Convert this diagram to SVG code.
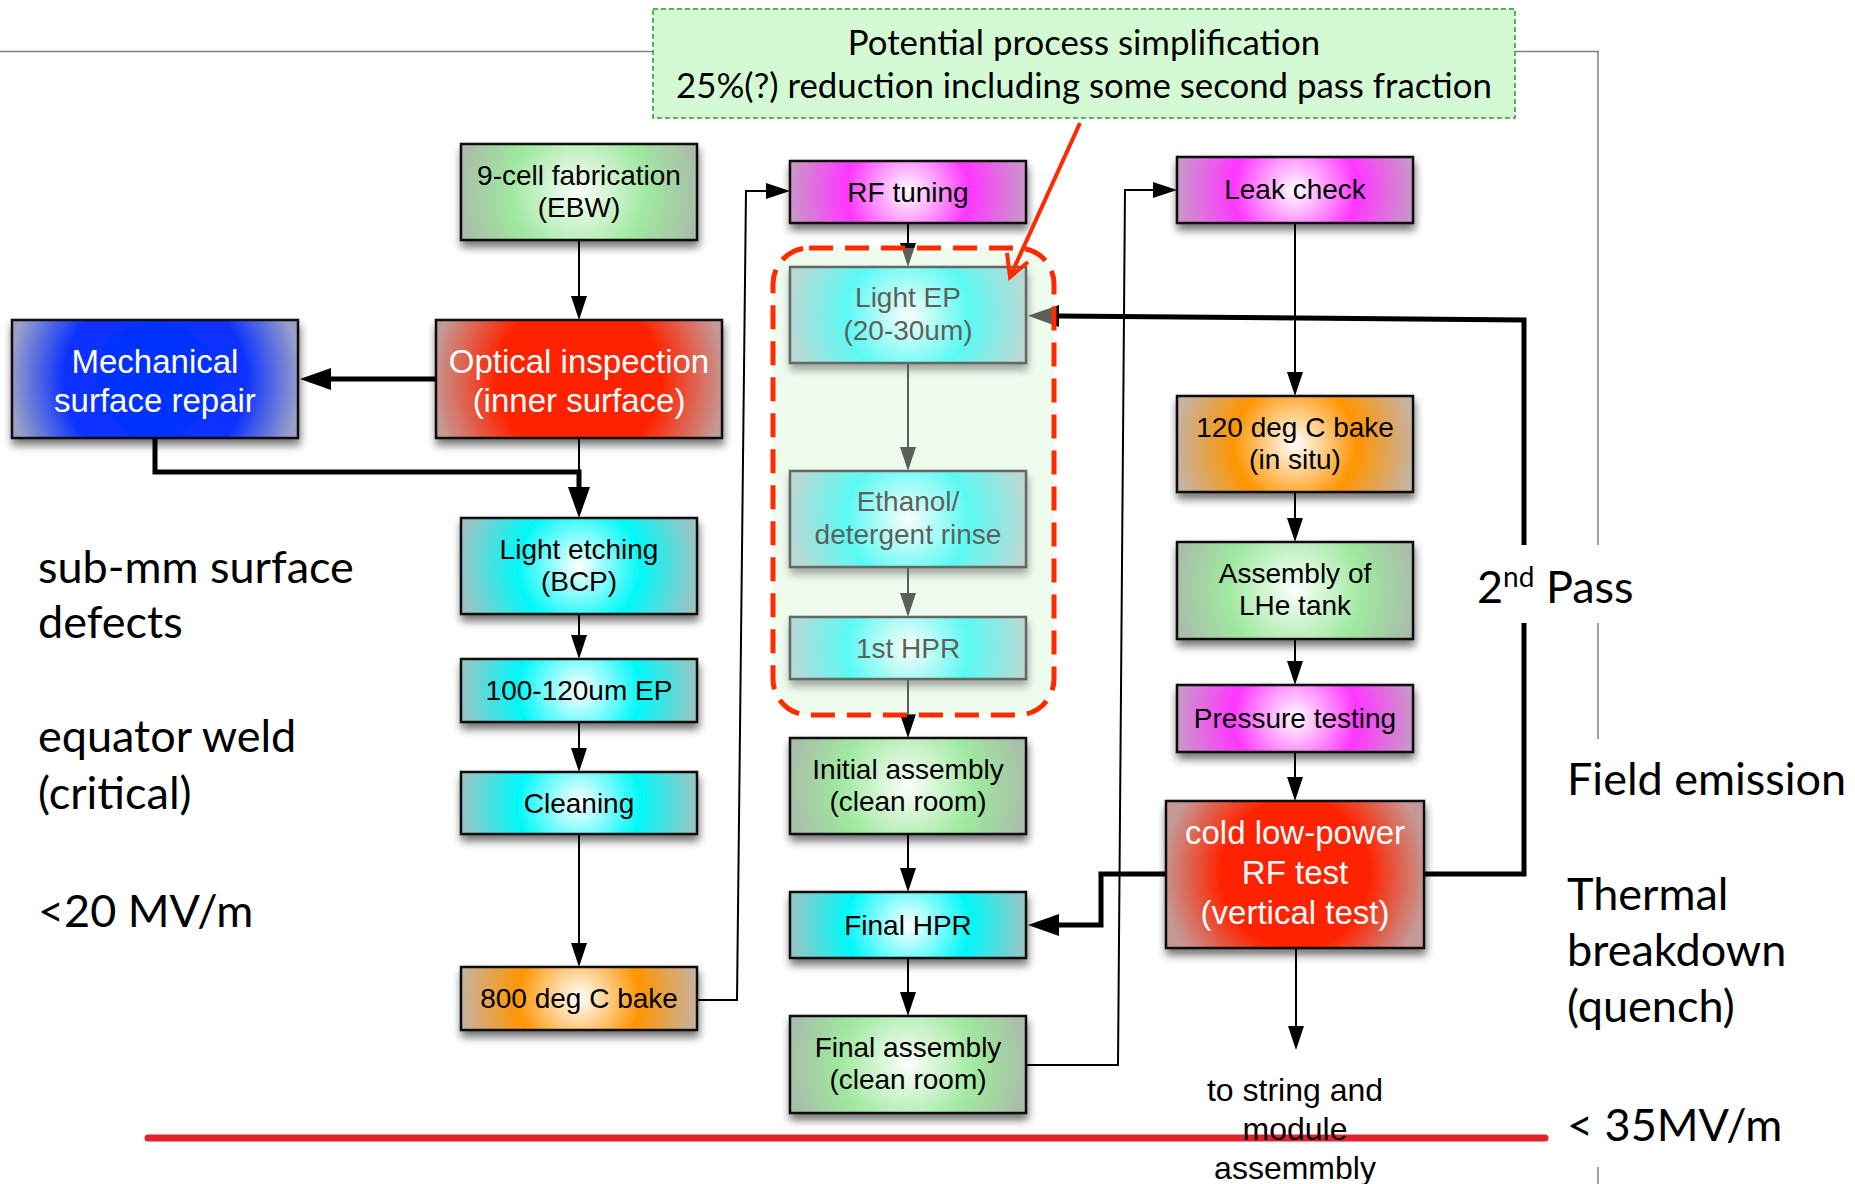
<svg xmlns="http://www.w3.org/2000/svg" width="1855" height="1184" viewBox="0 0 1855 1184">
<style>
.box{stroke:#111;stroke-width:2.5;filter:url(#sh)}
.t{font-family:"Liberation Sans",Arial,sans-serif;font-size:28px;fill:#000;text-anchor:middle}
.tw{font-family:"Liberation Sans",Arial,sans-serif;font-size:33px;fill:#fff;text-anchor:middle}
.tb{font-family:"Liberation Sans",Arial,sans-serif;font-size:32px;fill:#000;text-anchor:middle}
.c{font-family:Lato,"Open Sans",sans-serif;font-size:45px;fill:#000}
.note{font-family:Lato,"Open Sans",sans-serif;font-size:34.8px;fill:#000;text-anchor:middle}
.thin{fill:none;stroke:#000;stroke-width:2}
.thick{fill:none;stroke:#000;stroke-width:5}
.frame{fill:none;stroke:#808080;stroke-width:1.5}
</style>
<defs>
<filter id="sh" x="-10%" y="-15%" width="125%" height="150%"><feDropShadow dx="1" dy="6" stdDeviation="4" flood-color="#000" flood-opacity="0.55"/></filter>
<marker id="a" markerUnits="userSpaceOnUse" markerWidth="24" markerHeight="16" refX="1" refY="8" orient="auto"><path d="M0,0 L24,8 L0,16 z" fill="#000"/></marker>
<marker id="A" markerUnits="userSpaceOnUse" markerWidth="31" markerHeight="22" refX="1" refY="11" orient="auto"><path d="M0,0 L31,11 L0,22 z" fill="#000"/></marker>
<radialGradient id="gGreen"><stop offset="0" stop-color="#fbfffb"/><stop offset="0.55" stop-color="#a0e8a0"/><stop offset="0.96" stop-color="#a9bea9"/></radialGradient>
<radialGradient id="gCyan"><stop offset="0" stop-color="#ffffff"/><stop offset="0.5" stop-color="#00f8f8"/><stop offset="0.96" stop-color="#9cc4c4"/></radialGradient>
<radialGradient id="gMag"><stop offset="0" stop-color="#ffffff"/><stop offset="0.5" stop-color="#ff36ff"/><stop offset="0.96" stop-color="#c898c8"/></radialGradient>
<radialGradient id="gOr"><stop offset="0" stop-color="#ffffff"/><stop offset="0.5" stop-color="#ff9500"/><stop offset="0.96" stop-color="#c6b2a2"/></radialGradient>
<radialGradient id="gRed"><stop offset="0" stop-color="#ff2400"/><stop offset="0.55" stop-color="#ff2400"/><stop offset="0.97" stop-color="#c49894"/></radialGradient>
<radialGradient id="gBlue"><stop offset="0" stop-color="#0030ff"/><stop offset="0.6" stop-color="#0a30ff"/><stop offset="0.97" stop-color="#9aa0c8"/></radialGradient>
<radialGradient id="g1" href="#gGreen" gradientUnits="userSpaceOnUse" cx="579" cy="192" r="124"/>
<radialGradient id="g2" href="#gBlue" gradientUnits="userSpaceOnUse" cx="155" cy="379" r="150"/>
<radialGradient id="g3" href="#gRed" gradientUnits="userSpaceOnUse" cx="579" cy="379" r="150"/>
<radialGradient id="g4" href="#gCyan" gradientUnits="userSpaceOnUse" cx="579" cy="566" r="124"/>
<radialGradient id="g5" href="#gCyan" gradientUnits="userSpaceOnUse" cx="579" cy="690" r="124"/>
<radialGradient id="g6" href="#gCyan" gradientUnits="userSpaceOnUse" cx="579" cy="803" r="124"/>
<radialGradient id="g7" href="#gOr" gradientUnits="userSpaceOnUse" cx="579" cy="998" r="124"/>
<radialGradient id="g8" href="#gMag" gradientUnits="userSpaceOnUse" cx="908" cy="192" r="124"/>
<radialGradient id="g9" href="#gCyan" gradientUnits="userSpaceOnUse" cx="908" cy="315" r="124"/>
<radialGradient id="g10" href="#gCyan" gradientUnits="userSpaceOnUse" cx="908" cy="519" r="124"/>
<radialGradient id="g11" href="#gCyan" gradientUnits="userSpaceOnUse" cx="908" cy="648" r="124"/>
<radialGradient id="g12" href="#gGreen" gradientUnits="userSpaceOnUse" cx="908" cy="786" r="124"/>
<radialGradient id="g13" href="#gCyan" gradientUnits="userSpaceOnUse" cx="908" cy="925" r="124"/>
<radialGradient id="g14" href="#gGreen" gradientUnits="userSpaceOnUse" cx="908" cy="1064" r="124"/>
<radialGradient id="g15" href="#gMag" gradientUnits="userSpaceOnUse" cx="1295" cy="190" r="124"/>
<radialGradient id="g16" href="#gOr" gradientUnits="userSpaceOnUse" cx="1295" cy="444" r="124"/>
<radialGradient id="g17" href="#gGreen" gradientUnits="userSpaceOnUse" cx="1295" cy="590" r="124"/>
<radialGradient id="g18" href="#gMag" gradientUnits="userSpaceOnUse" cx="1295" cy="718" r="124"/>
<radialGradient id="g19" href="#gRed" gradientUnits="userSpaceOnUse" cx="1295" cy="874" r="136"/>
</defs>
<rect width="1855" height="1184" fill="#fff"/>

<g id="frame">
<path class="frame" d="M0,51.5 H653 M1515,51.5 H1598 V545 M1598,623 V739 M1598,1167 V1184"/>
</g>

<rect id="simplification-region-bg" x="773" y="248" width="281" height="467" rx="36" fill="#eefcee"/>

<g id="connectors">
<path class="thin" d="M579,240 V297" marker-end="url(#a)"/>
<path class="thick" d="M436,379 H330" marker-end="url(#A)"/>
<path class="thin" d="M579,438 V472"/>
<path class="thick" d="M155,438 V472 H579 V488" marker-end="url(#A)"/>
<path class="thin" d="M579,614 V636" marker-end="url(#a)"/>
<path class="thin" d="M579,722 V749" marker-end="url(#a)"/>
<path class="thin" d="M579,834 V944" marker-end="url(#a)"/>
<path class="thin" d="M697,1000 H737 L746,191 H767" marker-end="url(#a)"/>
<path class="thin" d="M908,223 V244" marker-end="url(#a)"/>
<path class="thin" d="M908,363 V448" marker-end="url(#a)"/>
<path class="thin" d="M908,567 V594" marker-end="url(#a)"/>
<path class="thin" d="M908,679 V715" marker-end="url(#a)"/>
<path class="thin" d="M908,834 V869" marker-end="url(#a)"/>
<path class="thin" d="M908,958 V993" marker-end="url(#a)"/>
<path class="thin" d="M1026,1065 H1118 L1125,190 H1154" marker-end="url(#a)"/>
<path class="thin" d="M1295,223 V373" marker-end="url(#a)"/>
<path class="thin" d="M1295,492 V519" marker-end="url(#a)"/>
<path class="thin" d="M1295,639 V662" marker-end="url(#a)"/>
<path class="thin" d="M1295,752 V778" marker-end="url(#a)"/>
<path class="thin" d="M1296,948 V1027" marker-end="url(#a)"/>
<path class="thick" d="M1166,874 H1101 V925 H1058" marker-end="url(#A)"/>
<path class="thick" d="M1424,874 H1524 V623"/>
<path class="thick" d="M1524,545 V320 L1058,316" marker-end="url(#A)"/>
</g>

<g id="n-9cell"><rect class="box" x="461" y="144" width="236" height="96" fill="url(#g1)"/><text class="t" x="579" y="185">9-cell fabrication</text><text class="t" x="579" y="217">(EBW)</text></g>
<g id="n-mechanical"><rect class="box" x="12" y="320" width="286" height="118" fill="url(#g2)"/><text class="tw" x="155" y="373">Mechanical</text><text class="tw" x="155" y="412">surface repair</text></g>
<g id="n-optical"><rect class="box" x="436" y="320" width="286" height="118" fill="url(#g3)"/><text class="tw" x="579" y="373">Optical inspection</text><text class="tw" x="579" y="412">(inner surface)</text></g>
<g id="n-lightetch"><rect class="box" x="461" y="518" width="236" height="96" fill="url(#g4)"/><text class="t" x="579" y="559">Light etching</text><text class="t" x="579" y="591">(BCP)</text></g>
<g id="n-ep"><rect class="box" x="461" y="659" width="236" height="63" fill="url(#g5)"/><text class="t" x="579" y="700">100-120um EP</text></g>
<g id="n-cleaning"><rect class="box" x="461" y="772" width="236" height="62" fill="url(#g6)"/><text class="t" x="579" y="813">Cleaning</text></g>
<g id="n-bake800"><rect class="box" x="461" y="967" width="236" height="63" fill="url(#g7)"/><text class="t" x="579" y="1008">800 deg C bake</text></g>
<g id="n-rftuning"><rect class="box" x="790" y="161" width="236" height="62" fill="url(#g8)"/><text class="t" x="908" y="202">RF tuning</text></g>
<g id="n-lightep"><rect class="box" x="790" y="267" width="236" height="96" fill="url(#g9)"/><text class="t" x="908" y="307">Light EP</text><text class="t" x="908" y="340">(20-30um)</text></g>
<g id="n-ethanol"><rect class="box" x="790" y="471" width="236" height="96" fill="url(#g10)"/><text class="t" x="908" y="511">Ethanol/</text><text class="t" x="908" y="544">detergent rinse</text></g>
<g id="n-hpr1"><rect class="box" x="790" y="617" width="236" height="62" fill="url(#g11)"/><text class="t" x="908" y="658">1st HPR</text></g>
<g id="n-initial"><rect class="box" x="790" y="738" width="236" height="96" fill="url(#g12)"/><text class="t" x="908" y="779">Initial assembly</text><text class="t" x="908" y="811">(clean room)</text></g>
<g id="n-finalhpr"><rect class="box" x="790" y="892" width="236" height="66" fill="url(#g13)"/><text class="t" x="908" y="935">Final HPR</text></g>
<g id="n-finalasm"><rect class="box" x="790" y="1016" width="236" height="97" fill="url(#g14)"/><text class="t" x="908" y="1057">Final assembly</text><text class="t" x="908" y="1089">(clean room)</text></g>
<g id="n-leak"><rect class="box" x="1177" y="157" width="236" height="66" fill="url(#g15)"/><text class="t" x="1295" y="199">Leak check</text></g>
<g id="n-bake120"><rect class="box" x="1177" y="396" width="236" height="96" fill="url(#g16)"/><text class="t" x="1295" y="437">120 deg C bake</text><text class="t" x="1295" y="469">(in situ)</text></g>
<g id="n-lhe"><rect class="box" x="1177" y="542" width="236" height="97" fill="url(#g17)"/><text class="t" x="1295" y="583">Assembly of</text><text class="t" x="1295" y="615">LHe tank</text></g>
<g id="n-pressure"><rect class="box" x="1177" y="685" width="236" height="67" fill="url(#g18)"/><text class="t" x="1295" y="728">Pressure testing</text></g>
<g id="n-coldtest"><rect class="box" x="1166" y="801" width="258" height="147" fill="url(#g19)"/><text class="tw" x="1295" y="844">cold low-power</text><text class="tw" x="1295" y="884">RF test</text><text class="tw" x="1295" y="924">(vertical test)</text></g>

<g id="simplification-region">
<rect x="773" y="248" width="281" height="467" rx="36" fill="#eefcee" fill-opacity="0.38"/>
<rect x="773" y="248" width="281" height="467" rx="36" fill="none" stroke="#ff2a00" stroke-width="5" stroke-dasharray="24 12"/>
</g>

<g id="note">
<rect x="653" y="9" width="862" height="109" fill="#d4fad4" stroke="#2a9a2a" stroke-width="1.5" stroke-dasharray="5 3"/>
<text class="note" x="1084" y="55">Potential process simplification</text>
<text class="note" x="1084" y="98">25%(?) reduction including some second pass fraction</text>
<path d="M1080,123 L1010,277 M1007,253 L1010,277 L1028,262" fill="none" stroke="#ff2a00" stroke-width="4" stroke-linejoin="miter"/>
</g>

<path id="limit-line" d="M148,1138 H1545" stroke="#e3212b" stroke-width="7" stroke-linecap="round"/>

<g id="exit-label">
<text class="tb" x="1295" y="1101">to string and</text>
<text class="tb" x="1295" y="1140">module</text>
<text class="tb" x="1295" y="1179">assemmbly</text>
</g>

<g id="left-notes">
<text class="c" x="38" y="583">sub-mm surface</text>
<text class="c" x="38" y="638">defects</text>
<text class="c" x="38" y="752">equator weld</text>
<text class="c" x="38" y="809">(critical)</text>
<text class="c" x="38" y="927">&lt;20 MV/m</text>
</g>
<g id="right-notes">
<text class="c" x="1477" y="603">2<tspan font-size="28" dy="-16">nd</tspan><tspan dy="16"> Pass</tspan></text>
<text class="c" x="1567" y="795">Field emission</text>
<text class="c" x="1567" y="910">Thermal</text>
<text class="c" x="1567" y="966">breakdown</text>
<text class="c" x="1567" y="1022">(quench)</text>
<text class="c" x="1567" y="1141">&lt; 35MV/m</text>
</g>
</svg>
